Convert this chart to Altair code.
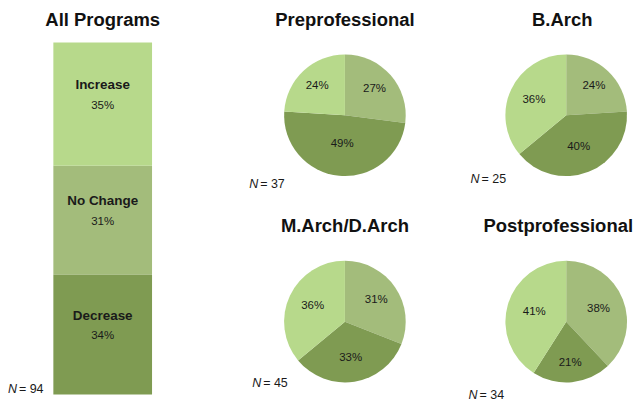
import altair as alt
import pandas as pd

FONT = "Liberation Sans"

# ---- data ----
categories = ["No Change", "Decrease", "Increase"]
colors = ["#a3bc7b", "#7f9b52", "#b7d98b"]

all_programs_values = [31, 34, 35]
all_programs_n = 94

programs = ["Preprofessional", "B.Arch", "M.Arch/D.Arch", "Postprofessional"]
preprofessional_values = [27, 49, 24]
barch_values = [24, 40, 36]
march_values = [31, 33, 36]
postprofessional_values = [38, 21, 41]
program_n = [37, 25, 45, 34]

# ---- layout (code only) ----
BAR_W, BAR_H = 190, 353
CELL_W, CELL_H = 130, 146
ROW_GAP, COL_GAP, LEFT_GAP = 61, 92, 83
PIE_R = 61
N_POS = {  # N-label position in each pie cell
    "Preprofessional": (-31, 146),
    "B.Arch": (-31, 141),
    "M.Arch/D.Arch": (-28, 139),
    "Postprofessional": (-33, 151),
}
TITLE_DX = {"Preprofessional": 0, "B.Arch": -4, "M.Arch/D.Arch": 0,
            "Postprofessional": -8}

color_scale = alt.Scale(domain=categories, range=colors)
theta_scale = alt.Scale(domain=[0, 100])
TEXT_COLOR = "#1a1a1a"


def title(text, dx=0):
    return alt.TitleParams(text, font=FONT, fontSize=18.5, fontWeight="bold",
                           color="#111111", anchor="middle",
                           baseline="alphabetic", offset=-1.5, dx=dx)


def n_label(n, x, y):
    ndf = pd.DataFrame({"n": [n]})
    base = alt.Chart(ndf).transform_calculate(rest="'= ' + datum.n")
    n_italic = base.mark_text(font=FONT, fontSize=12.5, fontStyle="italic",
                              align="left", baseline="alphabetic",
                              color=TEXT_COLOR).encode(
        x=alt.value(x), y=alt.value(y), text=alt.value("N"))
    n_rest = base.mark_text(font=FONT, fontSize=12.5, align="left",
                            baseline="alphabetic", color=TEXT_COLOR).encode(
        x=alt.value(x + 11), y=alt.value(y), text="rest:N")
    return n_italic, n_rest


# ---- stacked bar: All Programs ----
bar_df = pd.DataFrame({
    "category": categories,
    "value": all_programs_values,
    "stack_order": [1, 0, 2],
    "program": "All Programs",
})
bar_base = alt.Chart(bar_df).transform_stack(
    stack="value", groupby=["program"], as_=["v0", "v1"],
    sort=[alt.SortField("stack_order", order="ascending")],
).transform_calculate(
    mid="(datum.v0 + datum.v1) / 2", pct="datum.value + '%'"
)
yscale = alt.Scale(domain=[0, 100], nice=False, zero=True)
bars = bar_base.mark_bar(size=99).encode(
    x=alt.X("program:N", axis=None),
    y=alt.Y("v0:Q", scale=yscale, axis=None),
    y2="v1:Q",
    color=alt.Color("category:N", scale=color_scale, legend=None),
)
bar_names = bar_base.mark_text(font=FONT, fontSize=13.5, fontWeight="bold",
                               color=TEXT_COLOR, dy=-19, baseline="middle").encode(
    x="program:N", y=alt.Y("mid:Q", scale=yscale), text="category:N")
bar_pcts = bar_base.mark_text(font=FONT, fontSize=11.5, color=TEXT_COLOR,
                              dy=1.5, baseline="middle").encode(
    x="program:N", y=alt.Y("mid:Q", scale=yscale), text="pct:N")
bn1, bn2 = n_label(all_programs_n, 0, BAR_H - 1)
bar_chart = alt.layer(bars, bar_names, bar_pcts, bn1, bn2).properties(
    width=BAR_W, height=BAR_H, title=title("All Programs"))


# ---- pies ----
def pie(name, values, n):
    df = pd.DataFrame({"category": categories, "value": values,
                       "order": [0, 1, 2]})
    arcs = alt.Chart(df).mark_arc(outerRadius=PIE_R).encode(
        theta=alt.Theta("value:Q", stack=True, scale=theta_scale),
        order=alt.Order("order:Q", sort="ascending"),
        color=alt.Color("category:N", scale=color_scale, legend=None),
    )
    labels = alt.Chart(df).transform_window(
        cum="sum(value)", sort=[alt.SortField("order", order="ascending")],
        frame=[None, 0],
    ).transform_calculate(
        pct="datum.value + '%'",
        midv="datum.cum - datum.value / 2",
        ang="datum.value / 100 * 2 * PI",
    ).transform_calculate(
        # label sits near the centroid of its slice
        label_r=f"1.1 * 4 * {PIE_R} * sin(datum.ang / 2) / (3 * datum.ang)",
    ).mark_text(font=FONT, fontSize=11.5, color=TEXT_COLOR).encode(
        theta=alt.Theta("midv:Q", stack=None, scale=theta_scale),
        radius=alt.Radius("label_r:Q", scale=None),
        text="pct:N",
    )
    nx, ny = N_POS[name]
    n1, n2 = n_label(n, nx, ny)
    return alt.layer(arcs, labels, n1, n2).properties(
        width=CELL_W, height=CELL_H, title=title(name, TITLE_DX[name]))


pie_values = [preprofessional_values, barch_values, march_values,
              postprofessional_values]
pies = [pie(p, v, n) for p, v, n in zip(programs, pie_values, program_n)]

grid = alt.concat(*pies, columns=2, bounds="flush",
                  spacing={"row": ROW_GAP, "column": COL_GAP})

chart = alt.hconcat(bar_chart, grid, spacing=LEFT_GAP, bounds="flush").properties(
    padding={"left": 0, "top": 2, "right": 0, "bottom": 0}
).configure_view(stroke=None)

chart.save("out.html", embed_options={"renderer": "svg", "actions": False})
